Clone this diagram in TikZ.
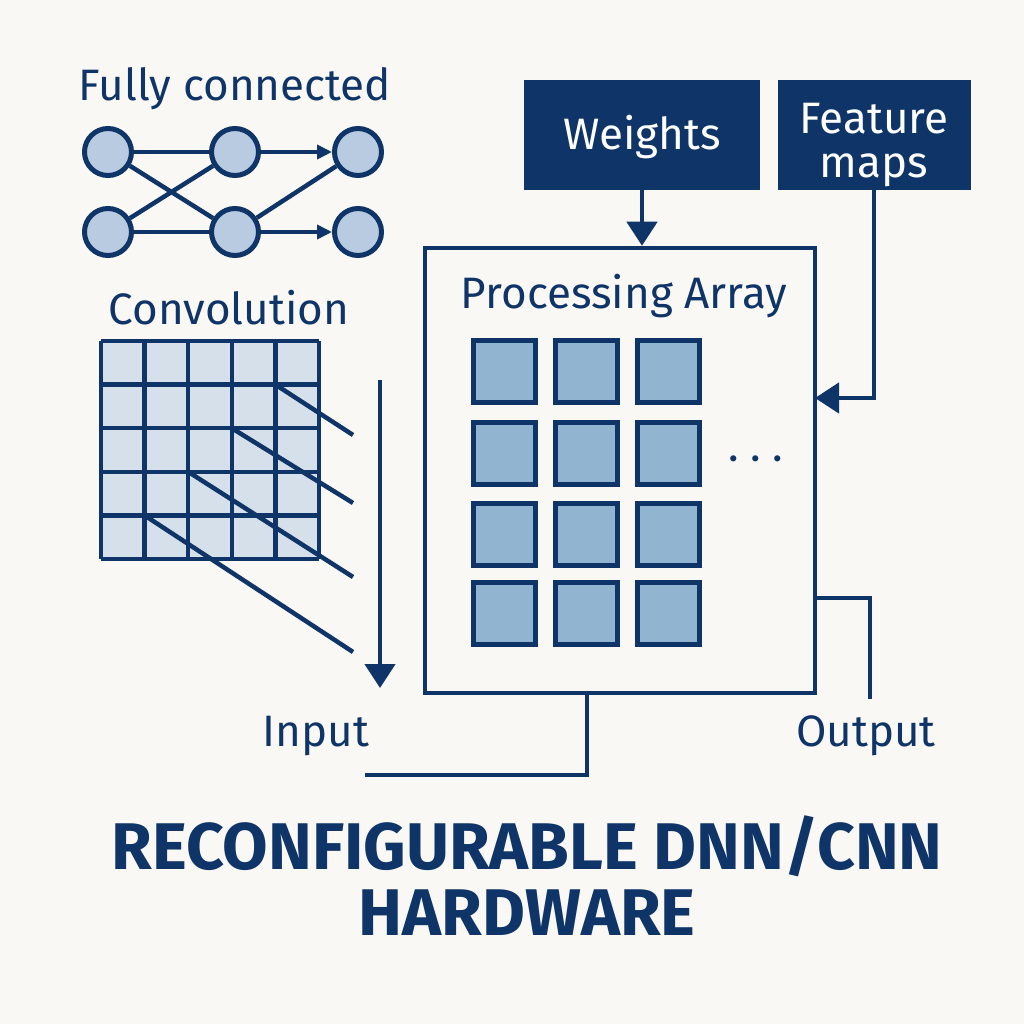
\documentclass[tikz,border=0pt]{standalone}
\usepackage{fontspec}
\setmainfont{Fira Sans}
\usetikzlibrary{arrows.meta}
\definecolor{navy}{RGB}{14,52,104}
\definecolor{paper}{RGB}{250,248,244}
\definecolor{neuronfill}{RGB}{184,203,224}
\definecolor{cellfill}{RGB}{214,224,235}
\definecolor{pefill}{RGB}{145,180,208}
\tikzset{
  neuron/.style={circle, draw=navy, fill=neuronfill, line width=5pt,
    minimum size=47pt, inner sep=0pt},
  pe/.style={rectangle, draw=navy, fill=pefill, line width=5pt,
    minimum size=62pt, inner sep=0pt},
  darkbox/.style={rectangle, fill=navy, inner sep=0pt},
  boxtext/.style={text=white, inner sep=0pt, align=center,
    font=\fontsize{44}{44}\selectfont},
  lbl/.style={text=navy, inner sep=0pt, font=\fontsize{44}{44}\selectfont},
  wire/.style={draw=navy, line width=4.5pt},
  tip/.style={-{Triangle[length=15pt,width=14pt]}},
  bigtip/.style={-{Triangle[length=24pt,width=30pt]}}
}
\begin{document}
\begin{tikzpicture}[x=1pt, y=-1pt]
  \fill[paper] (0,0) rectangle (1024,1024);
  \useasboundingbox (0,0) rectangle (1024,1024);
  % fully connected
  \node[lbl] (fctitle) at (235,89) {Fully connected};
  \draw
    (108,152) node[neuron] (n1){}
    (108,232) node[neuron] (n2){}
    (235,152) node[neuron] (n3){}
    (235,232) node[neuron] (n4){}
    (358,152) node[neuron] (n5){}
    (358,232) node[neuron] (n6){};
  \begin{scope}[wire]
    \draw (n1) to (n3);
    \draw (n1) to (n4);
    \draw (n2) to (n3);
    \draw (n2) to (n4);
    \draw[tip] (n3) to (n5);
    \draw (n4) to (n5);
    \draw[tip] (n4) to (n6);
  \end{scope}
  % convolution
  \node[lbl] (convtitle) at (229,308) {Convolution};
  \fill[cellfill] (101,341) rectangle (319,559);
  \foreach \k in {0,...,5} {
    \draw[wire] (101+43.6*\k,341) -- (101+43.6*\k,559);
    \draw[wire] (101,341+43.6*\k) -- (319,341+43.6*\k);
  }
  \foreach \sx/\sy/\ey in {275.4/384.6/435, 231.8/428.2/503, 188.2/471.8/577, 144.6/515.4/652}
    \draw[wire] (\sx,\sy) -- (353,\ey);
  \coordinate (intop) at (380,380);
  \coordinate (inbot) at (380,688);
  \draw[wire, bigtip] (intop) -- (inbot);
  % processing array
  \node[darkbox, minimum width=236pt, minimum height=110pt] (wgt) at (642,135) {};
  \node[boxtext] (wgttext) at (642,137) {Weights};
  \node[darkbox, minimum width=193pt, minimum height=110pt] (feat) at (874,135) {};
  \node[boxtext] (feattext) at (874,145) {Feature\\maps};
  \node[rectangle, draw=navy, line width=4.5pt, minimum width=390pt,
    minimum height=445pt] (pa) at (620,470.5) {};
  \node[lbl] (patitle) at (624,296) {Processing Array};
  \foreach \r/\y in {1/371, 2/453, 3/534, 4/613}
    \foreach \c/\x in {1/504, 2/586, 3/668}
      \node[pe] (pe\r\c) at (\x,\y) {};
  \node[lbl] (dots) at (756,464) {· · ·};
  \draw[wire, bigtip] (wgt.south) -- (wgt.south |- pa.north);
  \coordinate (featin) at (815,398);
  \draw[wire, bigtip] (feat.south) |- (featin);
  \coordinate (outa) at (815,598);
  \coordinate (outb) at (870,699);
  \draw[wire] (outa) -| (outb);
  \node[lbl] (outlbl) at (866,736) {Output};
  \coordinate (ina) at (587,693);
  \coordinate (inb) at (365,775);
  \draw[wire] (ina) |- (inb);
  \node[lbl] (inlbl) at (316,736) {Input};
  % title
  \node[text=navy, font=\fontsize{66}{66}\selectfont\bfseries] (title1) at (527,846) {RECONFIGURABLE DNN/CNN};
  \node[text=navy, font=\fontsize{66}{66}\selectfont\bfseries] (title2) at (527,913) {HARDWARE};
\end{tikzpicture}
\end{document}
